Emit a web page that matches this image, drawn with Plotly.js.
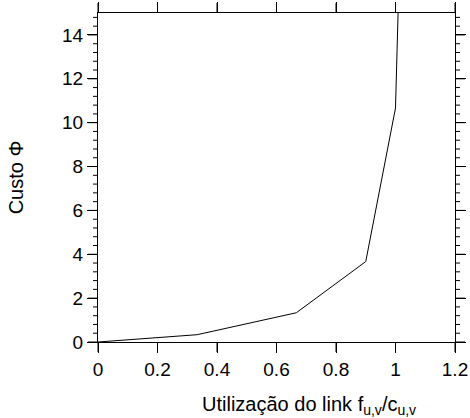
<!DOCTYPE html>
<html>
<head>
<meta charset="utf-8">
<script src="https://cdn.plot.ly/plotly-3.0.1.min.js"></script>
<style>html,body{margin:0;padding:0;background:#fff;}#chart{width:470px;height:418px;}</style>
</head>
<body>
<div id="chart"></div>
<script>
const utilization = [0, 1/3, 2/3, 0.9, 1.0, 1.1];
const cost = [0, 0.333, 1.333, 3.667, 10.667, 60.667];
const xTicks = [0, 0.2, 0.4, 0.6, 0.8, 1, 1.2];
const xTickLabels = ["0", "0.2", "0.4", "0.6", "0.8", "1", "1.2"];
const yTicks = [0, 2, 4, 6, 8, 10, 12, 14];
const xRange = [0, 1.2];
const yRange = [0, 15];
const yMinorStep = 0.4;

const W = 470, H = 418;
const M = {l: 98, r: 15, t: 13, b: 76};
const plotW = W - M.l - M.r, plotH = H - M.t - M.b;

function f(s) { return {family: "Liberation Sans, Arial, sans-serif", size: s, color: "#000"}; }

// tick marks as paper-referenced shapes, positioned from the axis ranges
const shapes = [];
const tl = {color: "#000", width: 1};
function px(v) { return (v - xRange[0]) / (xRange[1] - xRange[0]); }
function py(v) { return (v - yRange[0]) / (yRange[1] - yRange[0]); }
xTicks.forEach(function (v) {
  const x = px(v);
  shapes.push({type: "line", xref: "paper", yref: "paper", x0: x, x1: x, y0: 0, y1: -10 / plotH, line: tl});
  shapes.push({type: "line", xref: "paper", yref: "paper", x0: x, x1: x, y0: 1, y1: 1 + 10 / plotH, line: tl});
});
yTicks.forEach(function (v) {
  const y = py(v);
  shapes.push({type: "line", xref: "paper", yref: "paper", x0: 0, x1: -10 / plotW, y0: y, y1: y, line: tl});
  shapes.push({type: "line", xref: "paper", yref: "paper", x0: 1, x1: 1 + 10 / plotW, y0: y, y1: y, line: tl});
});
for (let k = 1; k * yMinorStep < yRange[1]; k++) {
  const v = +(k * yMinorStep).toFixed(4);
  if (Math.abs(v / 2 - Math.round(v / 2)) < 1e-6) continue;
  const y = py(v);
  shapes.push({type: "line", xref: "paper", yref: "paper", x0: 0, x1: -5 / plotW, y0: y, y1: y, line: tl});
  shapes.push({type: "line", xref: "paper", yref: "paper", x0: 1, x1: 1 + 5 / plotW, y0: y, y1: y, line: tl});
}

Plotly.newPlot("chart", [{
  x: utilization, y: cost, type: "scatter", mode: "lines",
  line: {color: "#000", width: 1}, showlegend: false
}], {
  width: W, height: H,
  margin: M,
  paper_bgcolor: "#fff", plot_bgcolor: "#fff",
  font: f(19),
  shapes: shapes,
  annotations: [{
    text: "Utilização do link f<sub>u,v</sub>/c<sub>u,v</sub>",
    xref: "paper", yref: "paper", x: 0.59, y: 0, xanchor: "center", yanchor: "middle",
    yshift: -63, showarrow: false, font: f(20)
  }],
  xaxis: {
    range: xRange, tickmode: "array", tickvals: xTicks, ticktext: xTickLabels,
    showgrid: false, zeroline: false, showline: true, linecolor: "#000", linewidth: 1,
    mirror: "allticks", ticks: "outside", ticklen: 10, tickwidth: 1, tickcolor: "#000",
    tickfont: f(19)
  },
  yaxis: {
    range: yRange, tickmode: "array", tickvals: yTicks,
    showgrid: false, zeroline: false, showline: true, linecolor: "#000", linewidth: 1,
    mirror: "allticks", ticks: "outside", ticklen: 10, tickwidth: 1, tickcolor: "#000",
    tickfont: f(19),
    title: {text: "Custo Φ", font: f(20), standoff: 33}
  }
}, {displayModeBar: false});
</script>
</body>
</html>
